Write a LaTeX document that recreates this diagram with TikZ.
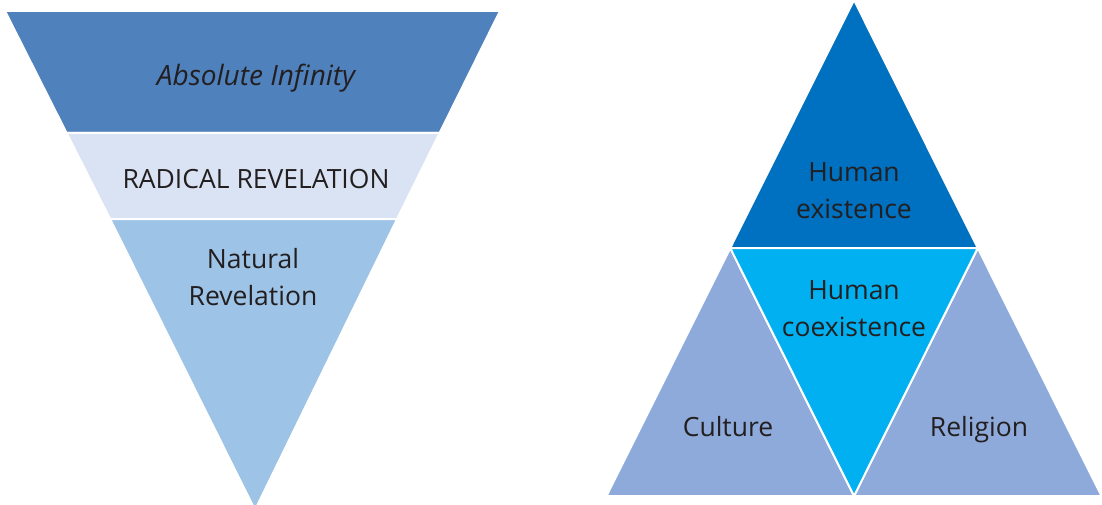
\documentclass[tikz,border=0pt]{standalone}
\usepackage{fontspec}
\setmainfont{Open Sans}
\begin{document}
\begin{tikzpicture}[x=1pt,y=-1pt,
  band/.style={draw=white,line width=2pt,line join=miter},
  lbl/.style={text=txt,align=center,font=\fontsize{26.5}{36.5}\selectfont,inner sep=0pt,anchor=base}]
\definecolor{txt}{HTML}{231F20}
\definecolor{bandA}{HTML}{4F81BD}
\definecolor{bandB}{HTML}{DAE3F3}
\definecolor{bandC}{HTML}{9DC3E6}
\definecolor{topT}{HTML}{0070C0}
\definecolor{midT}{HTML}{00B0F0}
\definecolor{sideT}{HTML}{8EAADB}
\useasboundingbox (0,0) rectangle (1102,505);

% inverted pyramid, three bands (white outlines form the gaps)
\begin{scope}
\clip (0,0) rectangle (1102,505);
\draw[band,fill=bandA] (5,11) -- (500,11) -- (439.6,133) -- (66.6,133) -- cycle;
\draw[band,fill=bandB] (66.6,133) -- (439.6,133) -- (397.1,219) -- (110.1,219) -- cycle;
\draw[band,fill=bandC] (110.1,219) -- (397.1,219) -- (255,510) -- cycle;
\end{scope}

% labels sit on the baseline of their last line
\node[lbl,font=\fontsize{28}{37}\selectfont\itshape] (abs) at (256,86) {Absolute Infinity};
\node[lbl] (rad) at (256,189) {RADICAL REVELATION};
\node[lbl] (nat) at (253,305) {Natural\\Revelation};

% triangle split into four
\coordinate (A) at (854,0);
\coordinate (L) at (606.5,496);
\coordinate (R) at (1101.5,496);
\coordinate (ML) at (730.25,248);
\coordinate (MR) at (977.75,248);
\coordinate (MB) at (854,496);
\draw[band,fill=topT] (A) -- (MR) -- (ML) -- cycle;
\draw[band,fill=sideT] (ML) -- (MB) -- (L) -- cycle;
\draw[band,fill=sideT] (MR) -- (R) -- (MB) -- cycle;
\draw[band,fill=midT] (ML) -- (MR) -- (MB) -- cycle;

\node[lbl] (hex) at (854,218) {Human\\existence};
\node[lbl] (hco) at (854,336) {Human\\coexistence};
\node[lbl] (cul) at (728,436) {Culture};
\node[lbl] (rel) at (979,436) {Religion};
\end{tikzpicture}
\end{document}
